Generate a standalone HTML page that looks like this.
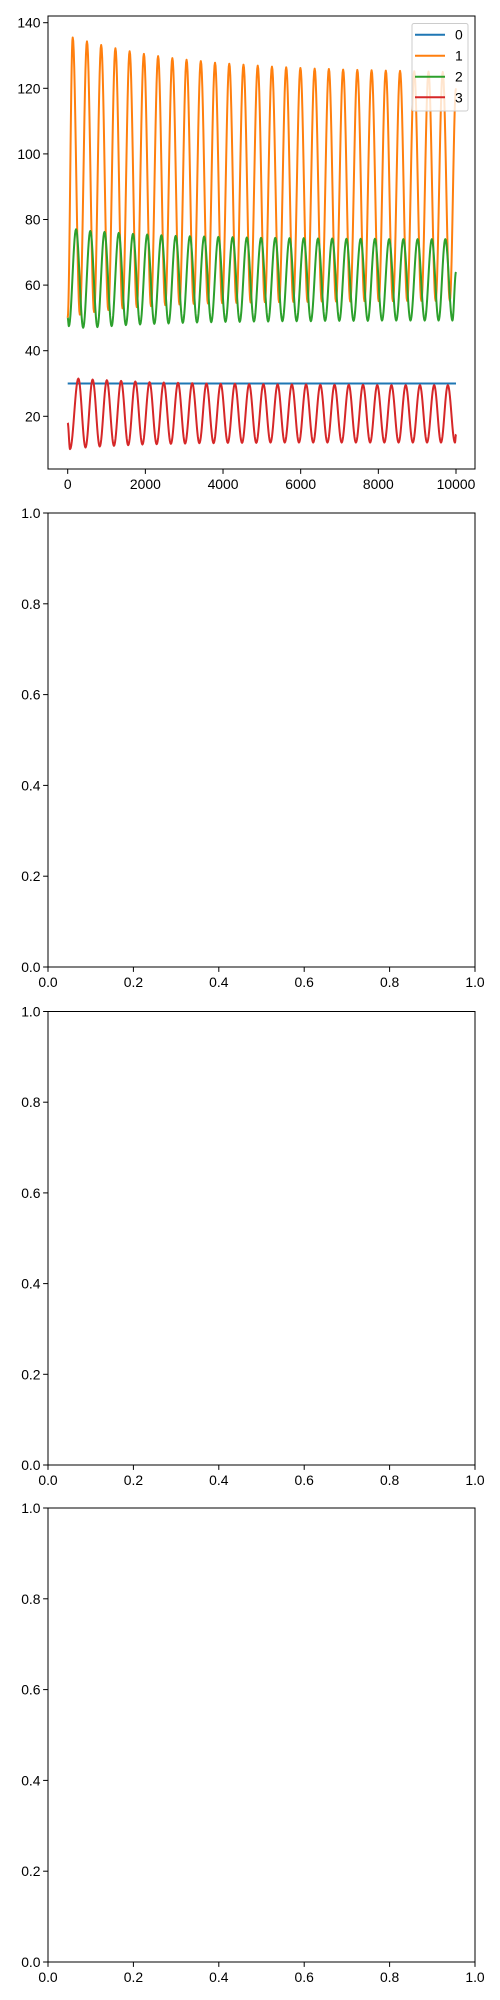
<!DOCTYPE html>
<html><head><meta charset="utf-8">
<style>
html,body{margin:0;padding:0;background:#fff;}
svg{display:block;}
text{font-family:"Liberation Sans",Arial,sans-serif;font-size:13.9px;fill:#000;}
</style></head>
<body>
<svg id="fig" width="500" height="2000" viewBox="0 0 500 2000" xmlns="http://www.w3.org/2000/svg"></svg>
<script>
// ---- data ----
const xTicks = [0, 2000, 4000, 6000, 8000, 10000];
const yTicks = [20, 40, 60, 80, 100, 120, 140];
const emptyTicks = [0.0, 0.2, 0.4, 0.6, 0.8, 1.0];
const emptyTickLabels = ["0.0", "0.2", "0.4", "0.6", "0.8", "1.0"];
const seriesNames = ["0", "1", "2", "3"];
const seriesColors = ["#1f77b4", "#ff7f0e", "#2ca02c", "#d62728"];

const s0Level = [30, 30];
const s0X = [0, 10000];

const s1Start = [0, 50];
const s1PeakX = [129,496,862,1229,1595,1962,2328,2695,3061,3428,3794,4161,4527,4894,5260,5627,5993,6360,6726,7093,7459,7826,8192,8559,8925,9292,9658];
const s1Peaks = [135.5,134.3,133.2,132.2,131.3,130.5,129.8,129.2,128.7,128.3,127.8,127.5,127.2,126.9,126.6,126.4,126.2,126,125.9,125.7,125.6,125.5,125.4,125.3,125.2,125.1,125];
const s1Troughs = [50,51,51.8,52.4,52.9,53.3,53.6,53.9,54.1,54.3,54.4,54.5,54.6,54.7,54.8,54.8,54.9,54.9,55,55,55,55.1,55.1,55.1,55.2,55.2,55.2];
const s1End = [10000, 120];

const s2Start = [0, 50];
const s2FirstTrough = [30, 47.5];
const s2PeakX = [215,582,948,1315,1681,2048,2414,2781,3147,3514,3880,4247,4613,4980,5346,5713,6079,6446,6812,7179,7545,7912,8278,8645,9011,9378,9725];
const s2Peaks = [77,76.5,76.2,75.9,75.6,75.4,75.2,75,74.9,74.8,74.7,74.6,74.5,74.4,74.4,74.3,74.3,74.2,74.2,74.1,74.1,74.1,74,74,74,74,74];
const s2Troughs = [47,47.2,47.5,47.8,48,48.2,48.3,48.5,48.6,48.7,48.8,48.8,48.9,48.9,49,49,49,49.1,49.1,49.1,49.1,49.2,49.2,49.2,49.2,49.2,49.2];
const s2End = [10000, 64];

const s3Start = [0, 18];
const s3FirstTrough = [60, 10];
const s3PeakX = [275,642,1008,1375,1741,2108,2474,2841,3207,3574,3940,4307,4673,5040,5406,5773,6139,6506,6872,7239,7605,7972,8338,8705,9071,9438,9790];
const s3Peaks = [31.5,31.2,31,30.8,30.6,30.4,30.3,30.2,30.1,30,29.9,29.9,29.8,29.8,29.7,29.7,29.7,29.6,29.6,29.6,29.6,29.5,29.5,29.5,29.5,29.5,29.5];
const s3Troughs = [10.5,10.8,11,11.2,11.4,11.5,11.6,11.7,11.8,11.8,11.9,11.9,11.9,12,12,12,12,12,12,12,12,12,12,12,12,12,12];
const s3End = [10000, 14.5];

// ---- layout ----
const NS = "http://www.w3.org/2000/svg";
const svg = document.getElementById("fig");
const L = 48, R = 475;
const axTops = [16, 513, 1011.5, 1508];
const axBots = [469, 967, 1465, 1962];

function el(tag, attrs, parent) {
  const e = document.createElementNS(NS, tag);
  for (const k in attrs) e.setAttribute(k, attrs[k]);
  (parent || svg).appendChild(e);
  return e;
}

// main axes scales
const X0 = 0, X1 = 10000, PX0 = 67.7, PX1 = 456;
const Y20 = 416.3, Y140 = 22.7;
function sx(v) { return PX0 + (v - X0) / (X1 - X0) * (PX1 - PX0); }
function sy(v) { return Y20 + (v - 20) / 120 * (Y140 - Y20); }

// build extrema list then cosine-smooth between extrema
function buildPath(pts) {
  let d = "M" + sx(pts[0][0]).toFixed(2) + "," + sy(pts[0][1]).toFixed(2);
  for (let i = 0; i < pts.length - 1; i++) {
    const a = pts[i], b = pts[i + 1];
    const n = 14;
    for (let j = 1; j <= n; j++) {
      const t = j / n;
      const x = a[0] + (b[0] - a[0]) * t;
      const v = a[1] + (b[1] - a[1]) * (1 - Math.cos(Math.PI * t)) / 2;
      d += "L" + sx(x).toFixed(2) + "," + sy(v).toFixed(2);
    }
  }
  return d;
}
function extremaSeries(start, first, peakX, peaks, troughs, endTroughVal, end) {
  const pts = [start];
  if (first) pts.push(first);
  for (let i = 0; i < peakX.length; i++) {
    pts.push([peakX[i], peaks[i]]);
    const nextX = i < peakX.length - 1 ? (peakX[i] + peakX[i + 1]) / 2 : Math.min(peakX[i] + 183, end[0] - 10);
    pts.push([nextX, troughs[Math.min(i + (first ? 0 : 1), troughs.length - 1)]]);
  }
  pts.push(end);
  return pts;
}

// ---- axes 1 (data plot) ----
const g1 = el("g", {});



const clip = el("clipPath", {id: "c1"}, g1);
el("rect", {x: L, y: axTops[0], width: R - L, height: axBots[0] - axTops[0]}, clip);
const lines = el("g", {"clip-path": "url(#c1)"}, g1);

const seriesPts = [
  [[s0X[0], s0Level[0]], [s0X[1], s0Level[1]]],
  extremaSeries(s1Start, null, s1PeakX, s1Peaks, s1Troughs, null, s1End),
  extremaSeries(s2Start, s2FirstTrough, s2PeakX, s2Peaks, s2Troughs, null, s2End),
  extremaSeries(s3Start, s3FirstTrough, s3PeakX, s3Peaks, s3Troughs, null, s3End)
];
const drawOrder = [0, 1, 2, 3];
drawOrder.forEach(i => {
  const p = el("path", {d: buildPath(seriesPts[i]), fill: "none", stroke: seriesColors[i], "stroke-width": 2, "stroke-linejoin": "round"}, lines);
  
  
});

// frame
const f1 = el("rect", {x: L, y: axTops[0], width: R - L, height: axBots[0] - axTops[0], fill: "none", stroke: "#000", "stroke-width": 1}, g1);



xTicks.forEach(v => {
  const x = sx(v);
  el("line", {x1: x, x2: x, y1: axBots[0], y2: axBots[0] + 4.9, stroke: "#000", "stroke-width": 1}, g1);
  const t = el("text", {x: x, y: axBots[0] + 20, "text-anchor": "middle"}, g1);
  t.textContent = v;
  
  
});
yTicks.forEach(v => {
  const y = sy(v);
  el("line", {x1: L - 4.9, x2: L, y1: y, y2: y, stroke: "#000", "stroke-width": 1}, g1);
  const t = el("text", {x: L - 7.5, y: y + 5, "text-anchor": "end"}, g1);
  t.textContent = v;
  
  
});

// legend
const lg = el("g", {}, g1);


el("rect", {x: 412, y: 23.5, width: 56, height: 87.5, rx: 2, fill: "#fff", "fill-opacity": 0.8, stroke: "#ccc", "stroke-width": 1}, lg);
const rowsY = [34.7, 55.7, 76.7, 97.3];
seriesNames.forEach((n, i) => {
  const e = el("g", {}, lg);
  
  
  el("line", {x1: 415, x2: 445, y1: rowsY[i], y2: rowsY[i], stroke: seriesColors[i], "stroke-width": 2}, e);
  const t = el("text", {x: 455, y: rowsY[i] + 5}, e);
  t.textContent = n;
});

// ---- empty axes 2..4 ----
for (let k = 1; k < 4; k++) {
  const g = el("g", {});
  
  
  const top = axTops[k], bot = axBots[k];
  el("rect", {x: L, y: top, width: R - L, height: bot - top, fill: "none", stroke: "#000", "stroke-width": 1}, g);
  emptyTicks.forEach((v, i) => {
    const x = L + v * (R - L);
    el("line", {x1: x, x2: x, y1: bot, y2: bot + 4.9, stroke: "#000", "stroke-width": 1}, g);
    const tx = el("text", {x: x, y: bot + 20, "text-anchor": "middle"}, g);
    tx.textContent = emptyTickLabels[i];
    
    
    const y = bot - v * (bot - top);
    el("line", {x1: L - 4.9, x2: L, y1: y, y2: y, stroke: "#000", "stroke-width": 1}, g);
    const ty = el("text", {x: L - 7.5, y: y + 5, "text-anchor": "end"}, g);
    ty.textContent = emptyTickLabels[i];
    
    
  });
}
</script>
</body></html>
